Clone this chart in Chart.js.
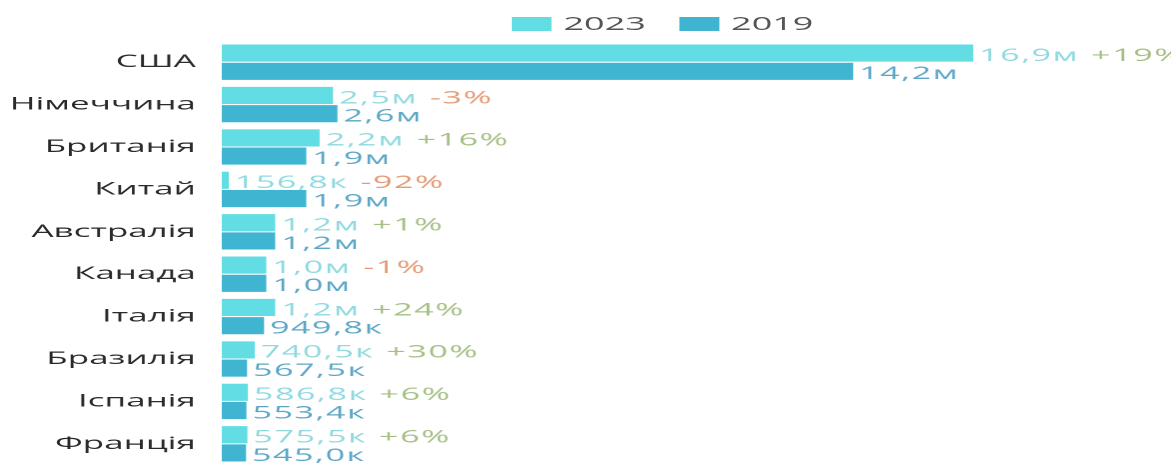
<!DOCTYPE html>
<html>
<head>
<meta charset="utf-8">
<script src="https://cdn.jsdelivr.net/npm/chart.js@4/dist/chart.umd.min.js"></script>
<style>
  html, body { margin: 0; padding: 0; background: #fff; overflow: hidden; }
  #wrap { position: relative; width: 586px; height: 466px; transform-origin: 0 0; transform: scaleX(1.9983); }
  #legend { position: absolute; top: 11px; left: 256px; font-family: "Open Sans", sans-serif; font-size: 18px; color: #555; white-space: nowrap; }
  #legend span.box { display: inline-block; width: 20px; height: 14px; vertical-align: -1px; margin-right: 6px; }
  #legend span.item { margin-right: 12px; }
</style>
</head>
<body>
<div id="wrap">
  <div id="legend">
    <span class="item"><span class="box" style="background:#62dde4"></span>2023</span>
    <span class="item"><span class="box" style="background:#3fb5d2"></span>2019</span>
  </div>
  <canvas id="chart" width="586" height="466"></canvas>
</div>
<script>
// кількість туристів, тис.
const countries = ['США', 'Німеччина', 'Британія', 'Китай', 'Австралія', 'Канада', 'Італія', 'Бразилія', 'Іспанія', 'Франція'];
const tourists2023 = [16900, 2500, 2200, 156.8, 1200, 1000, 1200, 740.5, 586.8, 575.5];
const tourists2019 = [14200, 2600, 1900, 1900, 1200, 1000, 949.8, 567.5, 553.4, 545.0];
const changePct = [19, -3, 16, -92, 1, -1, 24, 30, 6, 6];

const fmt = v => v >= 1000
  ? (v / 1000).toFixed(1).replace('.', ',') + 'м'
  : v.toFixed(1).replace('.', ',') + 'к';

const valueLabels = {
  id: 'valueLabels',
  afterDatasetsDraw(chart) {
    const ctx = chart.ctx;
    ctx.save();
    ctx.font = '17px "Open Sans", sans-serif';
    ctx.letterSpacing = '0.8px';
    ctx.textBaseline = 'middle';
    ctx.textAlign = 'left';
    chart.getDatasetMeta(0).data.forEach((bar, i) => {
      const txt = fmt(tourists2023[i]);
      const x = bar.x + 3;
      const y = bar.y + 3;
      ctx.fillStyle = '#8fd9df';
      ctx.fillText(txt, x, y);
      const w = ctx.measureText(txt).width + 6;
      const p = changePct[i];
      ctx.fillStyle = p >= 0 ? '#a5bf83' : '#e39a74';
      ctx.fillText((p >= 0 ? '+' : '') + p + '%', x + w, y);
    });
    chart.getDatasetMeta(1).data.forEach((bar, i) => {
      ctx.fillStyle = '#5ba6c6';
      ctx.fillText(fmt(tourists2019[i]), bar.x + 3, bar.y + 3);
    });
    ctx.restore();
  }
};

new Chart(document.getElementById('chart'), {
  type: 'bar',
  data: {
    labels: countries,
    datasets: [
      { label: '2023', data: tourists2023, backgroundColor: '#62dde4' },
      { label: '2019', data: tourists2019, backgroundColor: '#3fb5d2' }
    ]
  },
  options: {
    indexAxis: 'y',
    responsive: false,
    animation: false,
    devicePixelRatio: 2,
    categoryPercentage: 0.86,
    barPercentage: 0.94,
    layout: { padding: { top: 41, right: 30, bottom: 1, left: 0 } },
    scales: {
      x: { display: false, min: 0, max: 20000 },
      y: {
        grid: { display: false, drawTicks: false },
        border: { display: false },
        afterFit(scale) {
          scale.width = 111;
          scale.paddingTop = 0;
          scale.paddingBottom = 0;
        },
        ticks: {
          padding: 13,
          color: '#2a2a2a',
          font: { family: '"Open Sans", sans-serif', size: 17.5 }
        }
      }
    },
    plugins: {
      legend: { display: false },
      tooltip: { enabled: false }
    }
  },
  plugins: [valueLabels]
});
</script>
</body>
</html>
